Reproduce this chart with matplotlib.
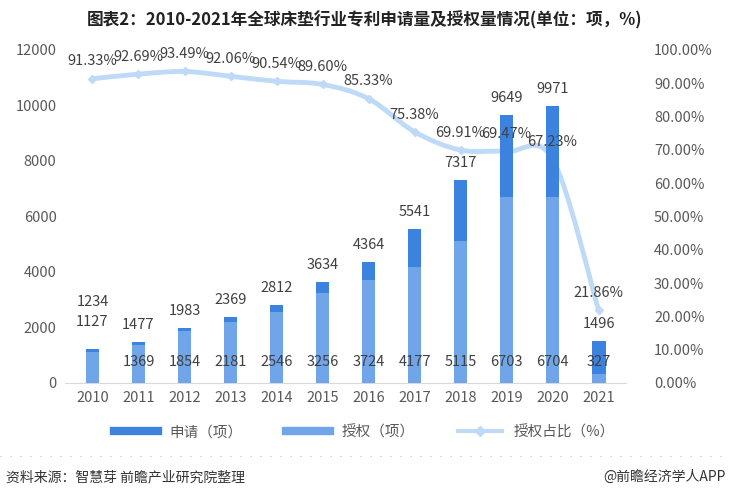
import matplotlib as mpl
mpl.use('Agg')
import matplotlib.pyplot as plt
from matplotlib.path import Path
from matplotlib.patches import PathPatch
from matplotlib.lines import Line2D

plt.rcParams['font.family'] = ['Noto Sans CJK SC', 'DejaVu Sans']

years = ['2010', '2011', '2012', '2013', '2014', '2015', '2016', '2017', '2018', '2019', '2020', '2021']
applied = [1234, 1477, 1983, 2369, 2812, 3634, 4364, 5541, 7317, 9649, 9971, 1496]
granted = [1127, 1369, 1854, 2181, 2546, 3256, 3724, 4177, 5115, 6703, 6704, 327]
ratio = [91.33, 92.69, 93.49, 92.06, 90.54, 89.60, 85.33, 75.38, 69.91, 69.47, 67.23, 21.86]

c_app = '#3C83DF'
c_gr = '#70A5E9'
c_line = '#BFDAF7'
grey = '#595959'

fig = plt.figure(figsize=(7.29, 4.98), dpi=100)
ax = fig.add_axes([0.089, 0.231, 0.77, 0.669])
ax2 = ax.twinx()
ax.set_zorder(ax2.get_zorder() + 1)
ax.patch.set_visible(False)

x = list(range(len(years)))
w = 0.3
ax.bar(x, applied, width=w, color=c_app, zorder=2)
ax.bar(x, granted, width=w, color=c_gr, zorder=3)

for i in x:
    ay = 2900 if i == 0 else applied[i] + 620
    ax.text(i, ay, str(applied[i]), ha='center', va='center', fontsize=10.5, color='#404040')
    gy = 2200 if i == 0 else 750
    ax.text(i, gy, str(granted[i]), ha='center', va='center', fontsize=10.5, color='#404040', zorder=5)

ax.set_ylim(0, 12000)
ax.set_yticks(range(0, 12001, 2000))
ax.set_xlim(-0.6, 11.6)
ax.set_xticks(x)
ax.set_xticklabels(years)
ax2.set_ylim(0, 100)
ax2.set_yticks(range(0, 101, 10))
ax2.set_yticklabels(['%.2f%%' % v for v in range(0, 101, 10)])

for a in (ax, ax2):
    for s in a.spines.values():
        s.set_visible(False)
    a.tick_params(length=0, labelsize=10.5, colors=grey)
ax.spines['bottom'].set_visible(True)
ax.spines['bottom'].set_color('#D9D9D9')
ax.tick_params(axis='x', pad=6)
ax.tick_params(axis='y', pad=6)
ax2.tick_params(axis='y', pad=20)

# smooth line through the ratio points (Catmull-Rom as Bezier segments)
pts = list(zip(x, ratio))
verts = [pts[0]]
codes = [Path.MOVETO]
for k in range(len(pts) - 1):
    p0 = pts[k - 1] if k > 0 else pts[k]
    p1 = pts[k]
    p2 = pts[k + 1]
    p3 = pts[k + 2] if k + 2 < len(pts) else pts[k + 1]
    t = 1 / 6.0
    c1 = (p1[0] + (p2[0] - p0[0]) * t, p1[1] + (p2[1] - p0[1]) * t)
    c2 = (p2[0] - (p3[0] - p1[0]) * t, p2[1] - (p3[1] - p1[1]) * t)
    verts += [c1, c2, p2]
    codes += [Path.CURVE4] * 3
ax2.add_patch(PathPatch(Path(verts, codes), facecolor='none', edgecolor=c_line, lw=3.5, zorder=4))
ax2.plot(x, ratio, linestyle='none', marker='D', markersize=4.5, color=c_line, zorder=5)

for i in x:
    ax.text(i, ratio[i] * 120 + 620, '%.2f%%' % ratio[i], ha='center', va='center', fontsize=10.5, color='#404040', zorder=6)

handles = [Line2D([0], [0], color=c_app, lw=6),
           Line2D([0], [0], color=c_gr, lw=6),
           Line2D([0], [0], color=c_line, lw=3, marker='D', markersize=5)]
fig.legend(handles, ['申请（项）', '授权（项）', '授权占比（%）'], loc='center', bbox_to_anchor=(0.5, 0.132),
           ncol=3, frameon=False, fontsize=10.5, handlelength=3, columnspacing=3, labelcolor=grey)

fig.text(0.5, 0.96, '图表2：2010-2021年全球床垫行业专利申请量及授权量情况(单位：项，%)', ha='center', va='center',
         fontsize=12, fontweight='bold', color='#222222')
fig.add_artist(Line2D([0.0, 1.0], [0.085, 0.085], color='#BFBFBF', lw=0.8, linestyle=(0, (1, 8))))
fig.text(0.008, 0.042, '资料来源：智慧芽 前瞻产业研究院整理', ha='left', va='center', fontsize=10, color='#333333')
fig.text(0.995, 0.042, '@前瞻经济学人APP', ha='right', va='center', fontsize=10, color='#333333')

fig.savefig('out.png', dpi=100)
